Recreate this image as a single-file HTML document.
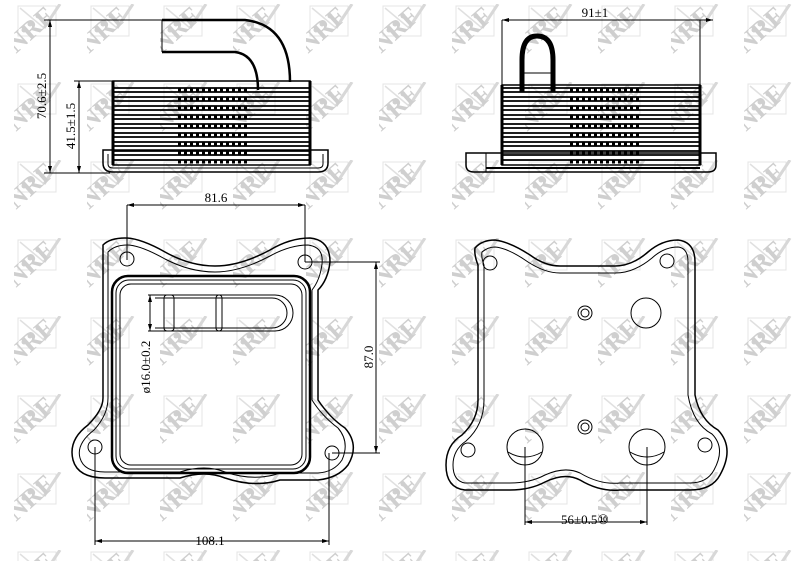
<!DOCTYPE html>
<html><head><meta charset="utf-8"><style>
html,body{margin:0;padding:0;background:#fff}
svg{display:block}
text{font-family:"Liberation Serif",serif;fill:#000}
</style></head><body>
<svg width="800" height="561" viewBox="0 0 800 561" xmlns="http://www.w3.org/2000/svg">
<defs>
<pattern id="wm" x="14" y="4" width="73" height="78" patternUnits="userSpaceOnUse">
  <rect x="4" y="2" width="38" height="30" fill="none" stroke="#e4e4e4" stroke-width="1"/>
  <line x1="6" y1="4" x2="30" y2="24" stroke="#e0e0e0" stroke-width="1.5"/>
  <line x1="30" y1="24" x2="46" y2="0" stroke="#d8d8d8" stroke-width="3"/>
  <circle cx="16" cy="20" r="2.5" fill="#d0d0d0"/><circle cx="24" cy="12" r="2.5" fill="#d0d0d0"/><circle cx="10" cy="26" r="2.5" fill="#d0d0d0"/>
  <text x="0" y="0" transform="translate(2,50) rotate(-42)" font-family="Liberation Sans,sans-serif" font-weight="bold" font-size="26" style="fill:#cfcfcf">NRF</text>
</pattern>
</defs>
<rect width="800" height="561" fill="url(#wm)"/>

<g fill="none" stroke="#000" stroke-width="1">
<!-- TOP LEFT VIEW -->
<line x1="44" y1="20" x2="162" y2="20"/>
<line x1="44" y1="173" x2="110" y2="173"/>
<line x1="50" y1="20" x2="50" y2="173"/>
<line x1="74" y1="81" x2="113" y2="81"/>
<line x1="79" y1="81" x2="79" y2="173"/>
<path d="M162 20 H245 Q290 25 290 82" stroke-width="2.5"/>
<path d="M162 52 H235 Q258 55 258 90" stroke-width="2.5"/>
<line x1="162" y1="20" x2="162" y2="52"/>
<rect x="113" y="81" width="197" height="84" stroke-width="1.5"/>
<g stroke-width="1.8">
<line x1="113" y1="88" x2="310" y2="88"/><line x1="113" y1="92" x2="310" y2="92"/>
<line x1="113" y1="97" x2="310" y2="97"/><line x1="113" y1="101" x2="310" y2="101"/>
<line x1="113" y1="106" x2="310" y2="106"/><line x1="113" y1="110" x2="310" y2="110"/>
<line x1="113" y1="115" x2="310" y2="115"/><line x1="113" y1="119" x2="310" y2="119"/>
<line x1="113" y1="124" x2="310" y2="124"/><line x1="113" y1="128" x2="310" y2="128"/>
<line x1="113" y1="133" x2="310" y2="133"/><line x1="113" y1="137" x2="310" y2="137"/>
<line x1="113" y1="142" x2="310" y2="142"/><line x1="113" y1="146" x2="310" y2="146"/>
<line x1="113" y1="151" x2="310" y2="151"/><line x1="113" y1="155" x2="310" y2="155"/>
<line x1="113" y1="160" x2="310" y2="160"/>
</g>
<g stroke-width="3" stroke-dasharray="3 3">
<line x1="178" y1="90" x2="248" y2="90"/><line x1="178" y1="99" x2="248" y2="99"/>
<line x1="178" y1="108" x2="248" y2="108"/><line x1="178" y1="117" x2="248" y2="117"/>
<line x1="178" y1="126" x2="248" y2="126"/><line x1="178" y1="135" x2="248" y2="135"/>
<line x1="178" y1="144" x2="248" y2="144"/><line x1="178" y1="153" x2="248" y2="153"/>
<line x1="178" y1="162" x2="248" y2="162"/>
</g>
<path d="M103 150 H328 V163 Q328 172 318 172 H113 Q103 172 103 163 Z" stroke-width="1.5"/>
<path d="M108 154 V164 Q108 168 113 168 H318 Q323 168 323 164 V154"/>
<line x1="113" y1="81" x2="113" y2="165" stroke-width="3"/>
<line x1="310" y1="81" x2="310" y2="165" stroke-width="3"/>

<!-- TOP RIGHT VIEW -->
<line x1="502" y1="20" x2="713" y2="20"/>
<line x1="502" y1="20" x2="502" y2="85"/><line x1="700" y1="20" x2="700" y2="85"/>
<rect x="502" y="85" width="198" height="80" stroke-width="1.5"/>
<path d="M522 92 V60 Q522 36 537 36 Q553 36 553 60 V92" stroke-width="5"/>
<line x1="522" y1="73" x2="553" y2="73"/>
<g stroke-width="1.8">
<line x1="502" y1="88" x2="700" y2="88"/><line x1="502" y1="92" x2="700" y2="92"/>
<line x1="502" y1="97" x2="700" y2="97"/><line x1="502" y1="101" x2="700" y2="101"/>
<line x1="502" y1="106" x2="700" y2="106"/><line x1="502" y1="110" x2="700" y2="110"/>
<line x1="502" y1="115" x2="700" y2="115"/><line x1="502" y1="119" x2="700" y2="119"/>
<line x1="502" y1="124" x2="700" y2="124"/><line x1="502" y1="128" x2="700" y2="128"/>
<line x1="502" y1="133" x2="700" y2="133"/><line x1="502" y1="137" x2="700" y2="137"/>
<line x1="502" y1="142" x2="700" y2="142"/><line x1="502" y1="146" x2="700" y2="146"/>
<line x1="502" y1="151" x2="700" y2="151"/><line x1="502" y1="155" x2="700" y2="155"/>
<line x1="502" y1="160" x2="700" y2="160"/>
</g>
<g stroke-width="3" stroke-dasharray="3 3">
<line x1="570" y1="90" x2="640" y2="90"/><line x1="570" y1="99" x2="640" y2="99"/>
<line x1="570" y1="108" x2="640" y2="108"/><line x1="570" y1="117" x2="640" y2="117"/>
<line x1="570" y1="126" x2="640" y2="126"/><line x1="570" y1="135" x2="640" y2="135"/>
<line x1="570" y1="144" x2="640" y2="144"/><line x1="570" y1="153" x2="640" y2="153"/>
<line x1="570" y1="162" x2="640" y2="162"/>
</g>
<line x1="502" y1="85" x2="502" y2="165" stroke-width="3"/><line x1="700" y1="85" x2="700" y2="165" stroke-width="3"/>
<path d="M466 153 H716 V165 Q716 172 708 172 H474 Q466 172 466 165 Z" stroke-width="1.5"/>
<line x1="486" y1="153" x2="486" y2="172"/>
<line x1="486" y1="168" x2="700" y2="168" stroke-width="2"/>

<!-- BOTTOM LEFT VIEW -->
<line x1="127" y1="205" x2="305" y2="205"/>
<line x1="127" y1="205" x2="127" y2="260"/><line x1="305" y1="205" x2="305" y2="262"/>
<line x1="305" y1="262" x2="380" y2="262"/><line x1="332" y1="453" x2="380" y2="453"/>
<line x1="376" y1="262" x2="376" y2="453"/>
<line x1="95" y1="447" x2="95" y2="545"/><line x1="329" y1="453" x2="329" y2="545"/>
<line x1="95" y1="541" x2="329" y2="541"/>
<path d="M103 245 Q110 238 125 238 Q140 238 165 252 Q190 266 215 266 Q240 266 270 250 Q290 238 310 238 Q330 240 330 262 Q328 280 318 290 V400 Q330 418 345 428 Q360 445 348 465 Q338 478 318 480 H280 Q255 488 225 478 Q205 470 180 478 H105 Q78 478 73 460 Q68 440 88 425 Q103 410 103 398 Z" stroke-width="1.5"/>
<path d="M108 252 Q115 245 127 245 Q140 245 165 259 Q190 272 215 272 Q240 272 270 256 Q290 245 308 245 Q324 247 322 264 Q320 280 312 290 V400 Q322 416 338 428 Q350 442 342 460 Q334 472 318 473 H280 Q255 482 225 472 Q205 464 180 472 H105 Q84 472 80 458 Q76 444 94 430 Q108 415 108 398 Z"/>
<circle cx="127" cy="259" r="7"/><circle cx="305" cy="262" r="7"/>
<circle cx="95" cy="447" r="7"/><circle cx="332" cy="453" r="7"/>
<rect x="112" y="276" width="198" height="197" rx="16" stroke-width="2.5"/>
<rect x="116" y="280" width="190" height="189" rx="13"/>
<rect x="120" y="284" width="182" height="181" rx="11"/>
<path d="M155 295 H275 A18 18 0 0 1 275 331 H155"/>
<path d="M155 298 H272 A15 15 0 0 1 272 328 H155"/>
<rect x="164" y="295" width="10" height="36" rx="3"/>
<rect x="216" y="295" width="6" height="36" rx="3"/>
<line x1="148" y1="295" x2="160" y2="295"/><line x1="148" y1="331" x2="160" y2="331"/>
<line x1="150" y1="295" x2="150" y2="331"/>

<!-- BOTTOM RIGHT VIEW -->
<path d="M475 248 Q482 240 495 240 Q510 242 530 255 Q545 266 560 266 H615 Q632 266 648 252 Q662 240 678 240 Q695 242 695 262 V395 Q700 420 718 430 Q735 448 720 475 Q712 490 690 490 H620 Q600 492 580 480 Q565 472 545 482 Q530 490 510 490 H465 Q446 488 446 465 Q446 445 462 435 Q478 420 478 400 V265 Q474 255 475 248 Z" stroke-width="1.5"/>
<path d="M482 252 Q488 247 495 247 Q508 248 528 262 Q545 273 560 273 H615 Q634 273 652 258 Q664 247 678 247 Q688 248 688 262 V395 Q693 424 712 434 Q726 448 714 470 Q707 483 690 483 H620 Q600 485 580 473 Q565 466 545 475 Q530 483 510 483 H465 Q453 481 453 465 Q453 450 466 441 Q484 425 484 400 V265 Q481 257 482 252 Z"/>
<circle cx="490" cy="263" r="7"/><circle cx="667" cy="261" r="7"/>
<circle cx="468" cy="450" r="7"/><circle cx="705" cy="445" r="7"/>
<circle cx="585" cy="313" r="7"/><circle cx="585" cy="313" r="4"/>
<circle cx="585" cy="427" r="7"/><circle cx="585" cy="427" r="4"/>
<circle cx="646" cy="313" r="15"/>
<circle cx="525" cy="447" r="18"/><path d="M508 452 Q525 462 542 452"/>
<circle cx="647" cy="447" r="18"/><path d="M630 452 Q647 462 664 452"/>
<line x1="525" y1="447" x2="525" y2="525"/><line x1="647" y1="447" x2="647" y2="525"/>
<line x1="525" y1="522" x2="647" y2="522"/>
</g>
<g fill="#000">
<path d="M50 20 l-2 7 h4z M50 173 l-2 -7 h4z M79 81 l-2 7 h4z M79 173 l-2 -7 h4z"/>
<path d="M502 20 l7 -2 v4z M713 20 l-7 -2 v4z"/>
<path d="M127 205 l7 -2 v4z M305 205 l-7 -2 v4z M376 262 l-2 7 h4z M376 453 l-2 -7 h4z M95 541 l7 -2 v4z M329 541 l-7 -2 v4z"/>
<path d="M150 295 l-2 7 h4z M150 331 l-2 -7 h4z M525 522 l7 -2 v4z M647 522 l-7 -2 v4z"/>
</g>
<text x="0" y="0" font-size="13" transform="translate(46,96) rotate(-90)" text-anchor="middle">70.6±2.5</text>
<text x="0" y="0" font-size="13" transform="translate(75,126) rotate(-90)" text-anchor="middle">41.5±1.5</text>
<text x="595" y="17" font-size="13" text-anchor="middle">91±1</text>
<text x="216" y="202" font-size="13" text-anchor="middle">81.6</text>
<text x="0" y="0" font-size="13" transform="translate(373,357) rotate(-90)" text-anchor="middle">87.0</text>
<text x="210" y="545" font-size="13" text-anchor="middle">108.1</text>
<text x="0" y="0" font-size="13" transform="translate(150,367) rotate(-90)" text-anchor="middle">ø16.0±0.2</text>
<text x="585" y="524" font-size="13" text-anchor="middle">56±0.5⑩</text>
</svg>
</body></html>
